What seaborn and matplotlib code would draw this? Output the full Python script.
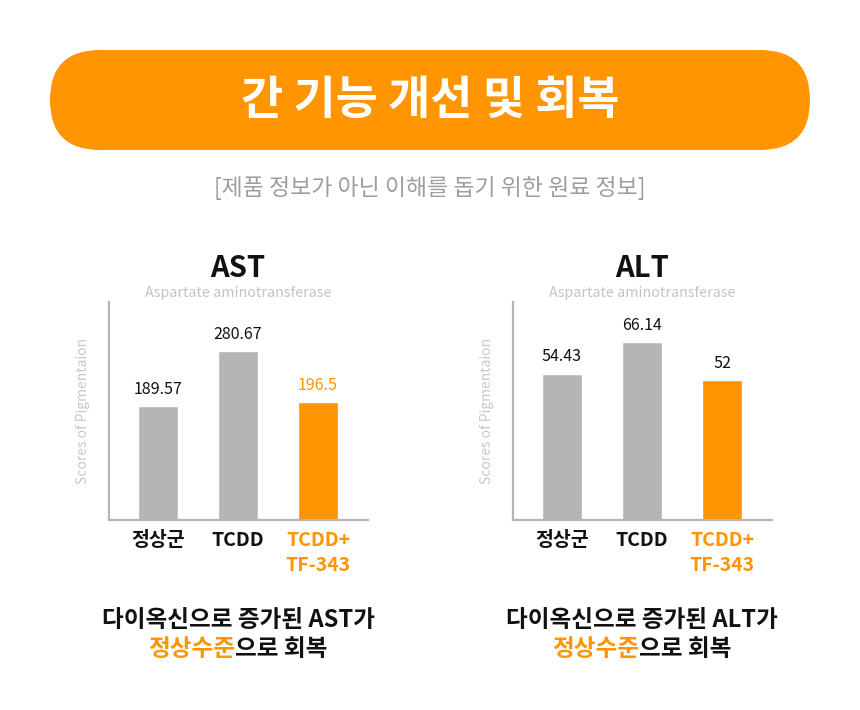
import matplotlib
matplotlib.use("Agg")
import matplotlib.pyplot as plt
from matplotlib.patches import FancyBboxPatch
import seaborn as sns
import pandas as pd

# ---------------- data ----------------
categories = ["정상군", "TCDD", "TCDD+\nTF-343"]
ast_values = [189.57, 280.67, 196.5]
alt_values = [54.43, 66.14, 52]
ast_label_colors = ["#111111", "#111111", "#FF9500"]
alt_label_colors = ["#111111", "#111111", "#111111"]
tick_colors = ["#111111", "#111111", "#FF9500"]

title_text = "간 기능 개선 및 회복"
subtitle_text = "[제품 정보가 아닌 이해를 돕기 위한 원료 정보]"
panel_titles = ["AST", "ALT"]
panel_subtitles = ["Aspartate aminotransferase", "Aspartate aminotransferase"]
ylabel_text = "Scores of Pigmentaion"
caption_line1 = ["다이옥신으로 증가된 AST가", "다이옥신으로 증가된 ALT가"]
caption_line2 = [("정상수준", "으로 회복")]

ORANGE = "#FF9500"
GRAY = "#B5B5B5"

sns.set_theme(style="white")
plt.rcParams["font.family"] = ["Noto Sans CJK KR", "DejaVu Sans"]

fig = plt.figure(figsize=(8.6, 7.1), dpi=100)

# background axes in pixel coordinates
bg = fig.add_axes([0, 0, 1, 1], zorder=0)
bg.set_xlim(0, 860)
bg.set_ylim(710, 0)
bg.axis("off")

pill = FancyBboxPatch((50, 50), 760, 100,
                      boxstyle="round,pad=0,rounding_size=50",
                      facecolor=ORANGE, edgecolor="none")
bg.add_patch(pill)
bg.text(430, 101, title_text, ha="center", va="center", color="white",
        fontsize=33, fontweight="bold")
bg.text(430, 188, subtitle_text, ha="center", va="center", color="#9E9E9E",
        fontsize=16.5, fontweight="light")

renderer = fig.canvas.get_renderer()

def draw_panel(left_px, values, label_colors, title, subtitle, ymax, caption1):
    ax = fig.add_axes([left_px / 860, (710 - 520) / 710, 259 / 860, 218 / 710], zorder=2)
    ax.patch.set_alpha(0)
    df = pd.DataFrame({"group": categories, "value": values})
    sns.barplot(data=df, x="group", y="value", hue="group",
                palette=[GRAY, GRAY, ORANGE], width=0.5, legend=False,
                saturation=1, ax=ax)
    ax.set_xlim(-0.6125, 2.625)
    ax.set_ylim(0, ymax)
    for s in ["top", "right"]:
        ax.spines[s].set_visible(False)
    for s in ["left", "bottom"]:
        ax.spines[s].set_color(GRAY)
        ax.spines[s].set_linewidth(1.6)
    ax.set_yticks([])
    ax.set_xlabel("")
    ax.set_ylabel(ylabel_text, color="#C8C8C8", fontsize=10, fontweight="light",
                  labelpad=14)
    ax.tick_params(axis="x", length=0, pad=8)
    ax.set_xticks(range(len(categories)))
    ax.set_xticklabels(categories, fontsize=14, fontweight="bold",
                       linespacing=1.4, va="top")
    for lbl, c in zip(ax.get_xticklabels(), tick_colors):
        lbl.set_color(c)
    for i, (v, c) in enumerate(zip(values, label_colors)):
        ax.annotate(f"{v:g}", (i, v), xytext=(0, 6), textcoords="offset points",
                    ha="center", va="bottom", fontsize=11.5, color=c)
    cx = left_px + (0 - (-0.6125)) / (2.625 + 0.6125) * 259 + 80
    bg.text(cx, 268, title, ha="center", va="center", fontsize=21,
            fontweight="bold", color="#111111")
    bg.text(cx, 293, subtitle, ha="center", va="center", fontsize=10.3,
            fontweight="light", color="#C4C4C4")
    bg.text(cx, 620, caption1, ha="center", va="center", fontsize=17,
            fontweight="bold", color="#111111")
    # two colour second line
    parts = [(caption_line2[0][0], ORANGE), (caption_line2[0][1], "#111111")]
    texts, widths = [], []
    for s, c in parts:
        t = bg.text(0, 649, s, ha="left", va="center", fontsize=17,
                    fontweight="bold", color=c)
        texts.append(t)
        widths.append(t.get_window_extent(renderer).width)
    start = cx - sum(widths) / 2
    for t, w in zip(texts, widths):
        t.set_x(start)
        start += w
    return ax

draw_panel(109, ast_values, ast_label_colors, panel_titles[0], panel_subtitles[0],
           363, caption_line1[0])
draw_panel(513, alt_values, alt_label_colors, panel_titles[1], panel_subtitles[1],
           81, caption_line1[1])

fig.savefig("out.png", dpi=100)
